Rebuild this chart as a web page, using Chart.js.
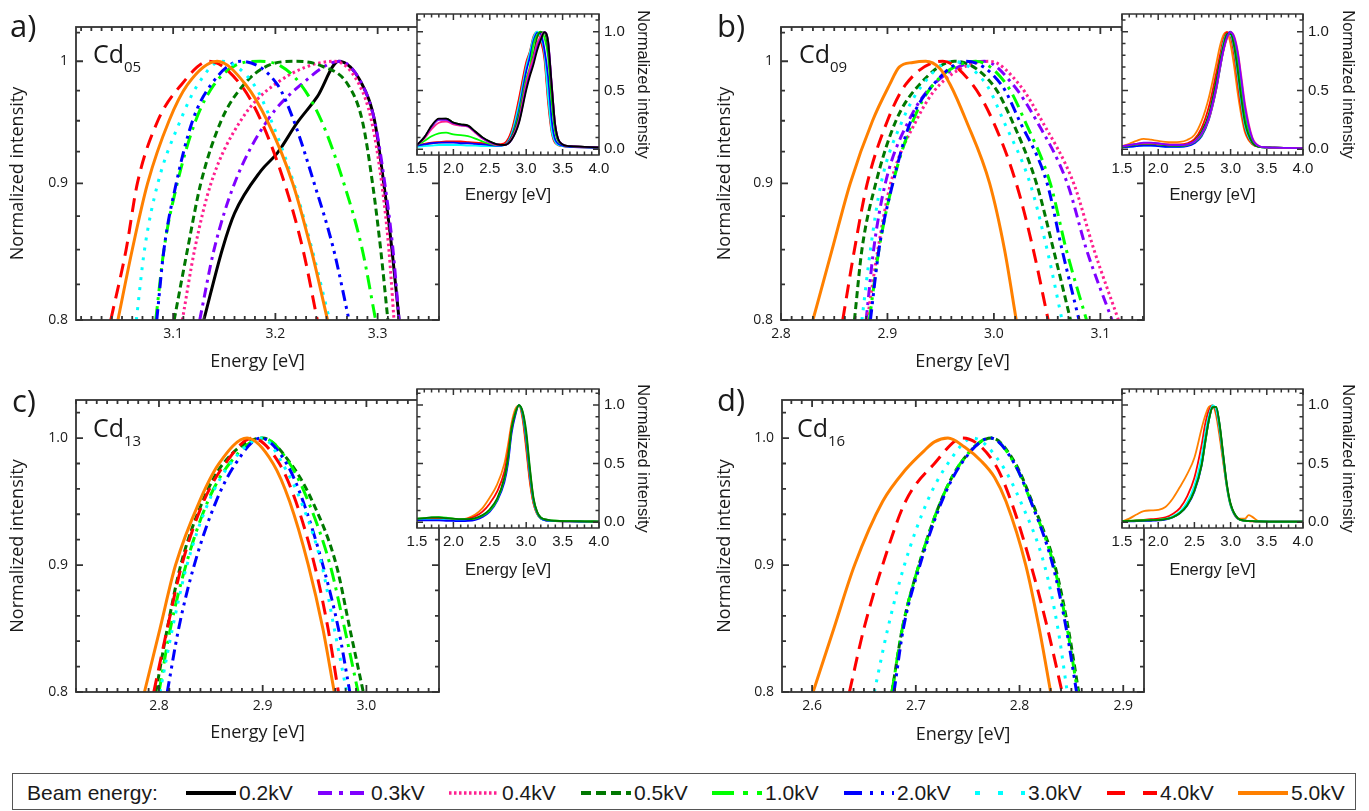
<!DOCTYPE html>
<html>
<head>
<meta charset="utf-8">
<title>Cd series – normalized CL spectra vs beam energy</title>
<script src="https://cdn.jsdelivr.net/npm/chart.js@4.4.0/dist/chart.umd.min.js"></script>
<style>
  html, body { margin: 0; padding: 0; background: #fff; }
  body { position: relative; width: 1369px; height: 811px; overflow: hidden; font-family: 'Open Sans', sans-serif; color: #1a1a1a; }
  .box { position: absolute; }
  .box canvas { display: block; }
  .tag { position: absolute; font-size: 31px; line-height: 1; }
  .name { position: absolute; font-size: 25px; line-height: 1; }
  .name sub { font-size: 15px; line-height: 0; vertical-align: -9px; }
  #legend { position: absolute; left: 12px; top: 773px; width: 1344px; height: 37px; box-sizing: border-box; border: 1.5px solid #555; }
  .ltext { position: absolute; top: 781px; font-family: 'Liberation Sans', Arial, sans-serif; font-size: 21px; line-height: 24px; white-space: nowrap; }
</style>
</head>
<body>

<div class="box" style="left:0px;top:0px"><canvas id="mainA" width="450" height="380"></canvas></div>
<div class="box" style="left:700px;top:0px"><canvas id="mainB" width="455" height="380"></canvas></div>
<div class="box" style="left:0px;top:375px"><canvas id="mainC" width="450" height="380"></canvas></div>
<div class="box" style="left:700px;top:375px"><canvas id="mainD" width="455" height="380"></canvas></div>

<div class="box" style="left:400px;top:0px"><canvas id="insetA" width="300" height="215"></canvas></div>
<div class="box" style="left:1100px;top:0px"><canvas id="insetB" width="269" height="215"></canvas></div>
<div class="box" style="left:400px;top:375px"><canvas id="insetC" width="300" height="215"></canvas></div>
<div class="box" style="left:1100px;top:375px"><canvas id="insetD" width="269" height="215"></canvas></div>

<div class="tag" style="left:10px;top:10px">a)</div>
<div class="tag" style="left:717px;top:10px">b)</div>
<div class="tag" style="left:12px;top:385px">c)</div>
<div class="tag" style="left:717px;top:384px">d)</div>

<div class="name" style="left:93px;top:41px">Cd<sub>05</sub></div>
<div class="name" style="left:799px;top:41px">Cd<sub>09</sub></div>
<div class="name" style="left:93px;top:415px">Cd<sub>13</sub></div>
<div class="name" style="left:797px;top:415px">Cd<sub>16</sub></div>

<div id="legend"></div>
<div class="ltext" style="left:27px">Beam energy:</div>

<script>
// ---- beam energies ----
const beamLabels = ['0.2kV', '0.3kV', '0.4kV', '0.5kV', '1.0kV', '2.0kV', '3.0kV', '4.0kV', '5.0kV'];

// intensity levels at which the peak flanks were read
const levels  = [0.8, 0.85, 0.9, 0.95, 0.98, 1, 0.98, 0.95, 0.9, 0.85, 0.8];
const flatTop = [0.8, 0.85, 0.9, 0.95, 0.98, 0.996, 1, 0.996, 0.98, 0.95, 0.9, 0.85, 0.8];

// ---- Cd05 (panel a), peak region ----
const cd05Series = [0, 1, 2, 3, 4, 5, 6, 7, 8];
const cd05BlackIntensity = [0.8, 0.85, 0.877, 0.91, 0.924, 0.948, 0.970, 1, 0.98, 0.95, 0.9, 0.85, 0.8];
const cd05Energy = [
  [3.130, 3.148, 3.160, 3.186, 3.202, 3.221, 3.241, 3.262, 3.285, 3.297, 3.306, 3.314, 3.321],
  [3.126, 3.140, 3.160, 3.192, 3.225, 3.263, 3.285, 3.297, 3.307, 3.315, 3.321],
  [3.109, 3.121, 3.137, 3.166, 3.199, 3.258, 3.282, 3.294, 3.304, 3.311, 3.316],
  [3.101, 3.114, 3.127, 3.147, 3.169, 3.192, 3.220, 3.245, 3.271, 3.285, 3.295, 3.303, 3.310],
  [3.083, 3.091, 3.104, 3.122, 3.140, 3.160, 3.185, 3.205, 3.225, 3.245, 3.267, 3.285, 3.298],
  [3.084, 3.091, 3.103, 3.119, 3.137, 3.166, 3.202, 3.218, 3.238, 3.257, 3.272],
  [3.064, 3.072, 3.085, 3.107, 3.124, 3.147, 3.179, 3.196, 3.218, 3.236, 3.253],
  [3.039, 3.054, 3.065, 3.085, 3.108, 3.135, 3.166, 3.186, 3.209, 3.227, 3.241],
  [3.046, 3.060, 3.075, 3.096, 3.114, 3.143, 3.171, 3.192, 3.217, 3.235, 3.251]
];
const cd05Intensity = [cd05BlackIntensity, levels, levels, flatTop, flatTop, levels, levels, levels, levels];

// ---- Cd09 (panel b) ----
const cd09Series = [1, 2, 3, 4, 5, 6, 7, 8];
const cd09OrangeIntensity = [0.8, 0.85, 0.9, 0.95, 0.98, 0.995, 0.999, 1, 0.994, 0.98, 0.95, 0.9, 0.85, 0.8];
const cd09Energy = [
  [2.880, 2.887, 2.898, 2.920, 2.943, 2.991, 3.018, 3.040, 3.069, 3.087, 3.111],
  [2.881, 2.891, 2.903, 2.927, 2.949, 2.996, 3.024, 3.045, 3.075, 3.094, 3.117],
  [2.869, 2.876, 2.889, 2.908, 2.930, 2.963, 2.999, 3.017, 3.040, 3.056, 3.072],
  [2.883, 2.892, 2.905, 2.924, 2.943, 2.983, 3.012, 3.029, 3.053, 3.068, 3.087],
  [2.884, 2.892, 2.905, 2.922, 2.943, 2.974, 3.007, 3.024, 3.050, 3.064, 3.080],
  [2.876, 2.884, 2.894, 2.914, 2.933, 2.961, 2.993, 3.009, 3.034, 3.050, 3.064],
  [2.858, 2.869, 2.881, 2.900, 2.917, 2.952, 2.980, 2.999, 3.021, 3.037, 3.051],
  [2.830, 2.848, 2.865, 2.886, 2.902, 2.911, 2.924, 2.936, 2.949, 2.959, 2.974, 2.996, 3.010, 3.021]
];
const cd09Intensity = [levels, levels, levels, levels, levels, levels, levels, cd09OrangeIntensity];

// ---- Cd13 (panel c) ----
const cd13Series = [3, 4, 5, 6, 7, 8];
const cd13Energy = [
  [2.797, 2.808, 2.821, 2.842, 2.862, 2.900, 2.927, 2.948, 2.971, 2.984, 2.997],
  [2.800, 2.811, 2.826, 2.847, 2.868, 2.900, 2.926, 2.944, 2.965, 2.979, 2.992],
  [2.808, 2.819, 2.834, 2.855, 2.874, 2.898, 2.923, 2.939, 2.958, 2.973, 2.984],
  [2.801, 2.813, 2.827, 2.848, 2.869, 2.900, 2.919, 2.937, 2.957, 2.969, 2.981],
  [2.795, 2.808, 2.822, 2.843, 2.864, 2.890, 2.916, 2.932, 2.950, 2.963, 2.973],
  [2.786, 2.801, 2.816, 2.839, 2.858, 2.885, 2.910, 2.926, 2.944, 2.958, 2.969]
];
const cd13Intensity = [levels, levels, levels, levels, levels, levels];

// ---- Cd16 (panel d) ----
const cd16Series = [3, 4, 5, 6, 7, 8];
const cd16OrangeIntensity = [0.8, 0.85, 0.9, 0.95, 0.975, 0.99, 0.997, 1, 0.993, 0.982, 0.969, 0.95, 0.9, 0.85, 0.8];
const cd16Energy = [
  [2.677, 2.687, 2.703, 2.724, 2.743, 2.773, 2.796, 2.812, 2.834, 2.847, 2.857],
  [2.677, 2.687, 2.703, 2.724, 2.743, 2.772, 2.795, 2.811, 2.833, 2.846, 2.856],
  [2.679, 2.688, 2.704, 2.725, 2.744, 2.772, 2.795, 2.811, 2.832, 2.845, 2.855],
  [2.660, 2.673, 2.689, 2.711, 2.731, 2.755, 2.782, 2.801, 2.824, 2.837, 2.846],
  [2.636, 2.650, 2.668, 2.690, 2.718, 2.745, 2.776, 2.792, 2.811, 2.827, 2.841],
  [2.601, 2.621, 2.641, 2.668, 2.690, 2.708, 2.718, 2.731, 2.747, 2.763, 2.776, 2.787, 2.806, 2.819, 2.830]
];
const cd16Intensity = [levels, levels, levels, levels, levels, cd16OrangeIntensity];

// ---- full spectra (insets) ----
const insetAEnergy = [1.5, 1.6, 1.7, 1.8, 1.9, 2.0, 2.1, 2.2, 2.3, 2.4, 2.5, 2.6, 2.7, 2.8, 2.9, 3.0, 3.05, 3.1, 3.15, 3.2, 3.25, 3.3, 3.35, 3.4, 3.5, 3.6, 3.8, 4.0];
const insetASeries = [0, 1, 2, 3, 4, 5, 6, 7, 8];
const insetAIntensity = [
  [0.035, 0.1, 0.2, 0.26, 0.26, 0.225, 0.21, 0.2, 0.15, 0.1, 0.065, 0.04, 0.035, 0.08, 0.22, 0.5, 0.62, 0.72, 0.84, 0.93, 0.995, 0.92, 0.55, 0.2, 0.04, 0.025, 0.02, 0.015],
  [0.035, 0.1, 0.19, 0.25, 0.25, 0.22, 0.205, 0.195, 0.145, 0.095, 0.06, 0.04, 0.035, 0.08, 0.23, 0.52, 0.64, 0.74, 0.87, 0.94, 0.995, 0.93, 0.56, 0.2, 0.04, 0.025, 0.02, 0.015],
  [0.035, 0.09, 0.17, 0.225, 0.235, 0.21, 0.2, 0.19, 0.14, 0.09, 0.055, 0.035, 0.035, 0.09, 0.25, 0.56, 0.68, 0.78, 0.9, 0.96, 0.995, 0.92, 0.55, 0.2, 0.04, 0.025, 0.02, 0.015],
  [0.035, 0.1, 0.19, 0.255, 0.26, 0.225, 0.21, 0.2, 0.15, 0.1, 0.065, 0.04, 0.035, 0.1, 0.28, 0.56, 0.66, 0.8, 0.95, 0.995, 0.99, 0.85, 0.48, 0.17, 0.04, 0.025, 0.02, 0.015],
  [0.035, 0.07, 0.11, 0.135, 0.14, 0.125, 0.12, 0.11, 0.09, 0.065, 0.045, 0.035, 0.035, 0.1, 0.3, 0.6, 0.7, 0.89, 0.97, 1.0, 0.95, 0.79, 0.4, 0.14, 0.04, 0.025, 0.02, 0.015],
  [0.03, 0.04, 0.05, 0.055, 0.055, 0.055, 0.05, 0.05, 0.045, 0.04, 0.035, 0.03, 0.035, 0.11, 0.33, 0.66, 0.78, 0.92, 0.99, 0.98, 0.85, 0.62, 0.25, 0.08, 0.03, 0.02, 0.015, 0.01],
  [0.02, 0.025, 0.03, 0.035, 0.035, 0.035, 0.035, 0.03, 0.03, 0.025, 0.025, 0.025, 0.035, 0.13, 0.38, 0.7, 0.82, 0.95, 1.0, 0.95, 0.82, 0.45, 0.16, 0.06, 0.025, 0.02, 0.015, 0.01],
  [0.03, 0.045, 0.055, 0.06, 0.065, 0.065, 0.065, 0.06, 0.055, 0.05, 0.045, 0.04, 0.05, 0.16, 0.43, 0.74, 0.83, 0.96, 0.995, 0.92, 0.77, 0.4, 0.14, 0.05, 0.025, 0.02, 0.015, 0.01],
  [0.03, 0.04, 0.05, 0.055, 0.06, 0.06, 0.06, 0.055, 0.05, 0.045, 0.04, 0.035, 0.045, 0.15, 0.41, 0.72, 0.82, 0.94, 1.0, 0.93, 0.79, 0.44, 0.16, 0.06, 0.025, 0.02, 0.015, 0.01]
];

const insetBEnergy = [1.5, 1.6, 1.7, 1.8, 1.9, 2.0, 2.1, 2.2, 2.3, 2.4, 2.5, 2.6, 2.7, 2.8, 2.85, 2.9, 2.95, 3.0, 3.05, 3.1, 3.15, 3.2, 3.3, 3.4, 3.5, 3.6, 3.8, 4.0];
const insetBSeries = [1, 2, 3, 4, 5, 6, 7, 8];
const insetBIntensity = [
  [0.025, 0.035, 0.045, 0.055, 0.055, 0.05, 0.04, 0.035, 0.035, 0.04, 0.065, 0.13, 0.27, 0.52, 0.69, 0.84, 0.95, 0.995, 0.95, 0.81, 0.58, 0.35, 0.09, 0.025, 0.015, 0.012, 0.01, 0.008],
  [0.025, 0.035, 0.045, 0.05, 0.05, 0.045, 0.04, 0.035, 0.035, 0.04, 0.065, 0.13, 0.26, 0.51, 0.68, 0.83, 0.94, 0.995, 0.96, 0.83, 0.61, 0.38, 0.1, 0.025, 0.015, 0.012, 0.01, 0.008],
  [0.02, 0.03, 0.04, 0.045, 0.045, 0.04, 0.035, 0.03, 0.03, 0.04, 0.07, 0.15, 0.3, 0.58, 0.74, 0.88, 0.98, 0.98, 0.87, 0.66, 0.42, 0.22, 0.055, 0.02, 0.015, 0.012, 0.01, 0.008],
  [0.02, 0.03, 0.04, 0.045, 0.045, 0.04, 0.035, 0.03, 0.03, 0.035, 0.06, 0.12, 0.26, 0.51, 0.68, 0.84, 0.95, 0.995, 0.92, 0.74, 0.5, 0.28, 0.07, 0.02, 0.015, 0.012, 0.01, 0.008],
  [0.015, 0.02, 0.025, 0.03, 0.03, 0.025, 0.02, 0.02, 0.02, 0.025, 0.05, 0.11, 0.25, 0.5, 0.67, 0.84, 0.96, 1.0, 0.9, 0.7, 0.46, 0.25, 0.06, 0.02, 0.015, 0.012, 0.01, 0.008],
  [0.015, 0.02, 0.025, 0.03, 0.03, 0.025, 0.02, 0.02, 0.02, 0.03, 0.06, 0.13, 0.28, 0.55, 0.72, 0.9, 0.98, 0.97, 0.85, 0.62, 0.38, 0.19, 0.05, 0.02, 0.015, 0.012, 0.01, 0.008],
  [0.02, 0.03, 0.04, 0.05, 0.05, 0.045, 0.04, 0.04, 0.04, 0.05, 0.085, 0.18, 0.36, 0.64, 0.79, 0.93, 0.995, 0.96, 0.8, 0.56, 0.33, 0.16, 0.045, 0.02, 0.015, 0.012, 0.01, 0.008],
  [0.025, 0.045, 0.07, 0.088, 0.08, 0.07, 0.062, 0.06, 0.062, 0.078, 0.12, 0.24, 0.44, 0.72, 0.87, 0.97, 0.995, 0.89, 0.7, 0.47, 0.28, 0.14, 0.04, 0.02, 0.015, 0.012, 0.01, 0.008]
];

const insetCEnergy = [1.5, 1.6, 1.7, 1.8, 1.9, 2.0, 2.1, 2.2, 2.3, 2.4, 2.5, 2.6, 2.7, 2.75, 2.8, 2.85, 2.9, 2.95, 3.0, 3.05, 3.1, 3.15, 3.2, 3.3, 3.4, 3.6, 3.8, 4.0];
const insetCSeries = [3, 4, 5, 6, 7, 8];
const insetCIntensity = [
  [0.03, 0.035, 0.04, 0.04, 0.035, 0.03, 0.025, 0.025, 0.035, 0.06, 0.11, 0.2, 0.38, 0.55, 0.8, 0.93, 1.0, 0.95, 0.78, 0.47, 0.21, 0.09, 0.04, 0.02, 0.012, 0.008, 0.006, 0.005],
  [0.03, 0.035, 0.04, 0.042, 0.038, 0.03, 0.025, 0.025, 0.03, 0.055, 0.1, 0.19, 0.37, 0.54, 0.8, 0.93, 1.0, 0.94, 0.75, 0.45, 0.2, 0.085, 0.04, 0.018, 0.012, 0.008, 0.006, 0.005],
  [0.015, 0.015, 0.015, 0.015, 0.012, 0.01, 0.008, 0.01, 0.02, 0.045, 0.09, 0.18, 0.34, 0.5, 0.76, 0.91, 1.0, 0.93, 0.72, 0.42, 0.19, 0.08, 0.035, 0.012, 0.008, 0.006, 0.005, 0.004],
  [0.02, 0.02, 0.02, 0.02, 0.018, 0.015, 0.015, 0.018, 0.03, 0.055, 0.1, 0.19, 0.36, 0.53, 0.79, 0.93, 1.0, 0.92, 0.7, 0.4, 0.18, 0.075, 0.03, 0.012, 0.008, 0.006, 0.005, 0.004],
  [0.02, 0.025, 0.028, 0.03, 0.025, 0.02, 0.02, 0.03, 0.05, 0.09, 0.16, 0.26, 0.43, 0.6, 0.82, 0.94, 1.0, 0.9, 0.65, 0.36, 0.16, 0.07, 0.03, 0.012, 0.008, 0.006, 0.005, 0.004],
  [0.025, 0.03, 0.033, 0.033, 0.028, 0.022, 0.022, 0.035, 0.065, 0.12, 0.21, 0.32, 0.5, 0.66, 0.85, 0.965, 0.995, 0.88, 0.62, 0.34, 0.16, 0.07, 0.03, 0.012, 0.008, 0.006, 0.005, 0.004]
];

const insetDEnergy = [1.5, 1.6, 1.7, 1.8, 1.9, 2.0, 2.1, 2.2, 2.3, 2.4, 2.5, 2.6, 2.65, 2.7, 2.75, 2.8, 2.85, 2.9, 2.95, 3.0, 3.1, 3.2, 3.25, 3.3, 3.4, 3.6, 3.8, 4.0];
const insetDSeries = [3, 4, 5, 6, 7, 8];
const insetDIntensity = [
  [0.008, 0.01, 0.012, 0.014, 0.016, 0.018, 0.025, 0.042, 0.078, 0.145, 0.27, 0.49, 0.69, 0.87, 0.98, 0.985, 0.83, 0.57, 0.32, 0.16, 0.035, 0.013, 0.01, 0.008, 0.006, 0.005, 0.004, 0.004],
  [0.01, 0.012, 0.014, 0.016, 0.018, 0.02, 0.025, 0.042, 0.078, 0.145, 0.27, 0.49, 0.68, 0.87, 0.98, 0.985, 0.82, 0.56, 0.31, 0.15, 0.033, 0.012, 0.01, 0.008, 0.006, 0.005, 0.004, 0.004],
  [0.005, 0.006, 0.008, 0.01, 0.012, 0.015, 0.022, 0.04, 0.075, 0.14, 0.26, 0.48, 0.68, 0.87, 0.98, 0.985, 0.82, 0.56, 0.31, 0.15, 0.03, 0.012, 0.01, 0.008, 0.006, 0.005, 0.004, 0.004],
  [0.005, 0.008, 0.01, 0.012, 0.015, 0.02, 0.028, 0.05, 0.09, 0.17, 0.31, 0.56, 0.76, 0.91, 0.998, 0.96, 0.78, 0.53, 0.29, 0.14, 0.03, 0.012, 0.01, 0.008, 0.006, 0.005, 0.004, 0.004],
  [0.005, 0.01, 0.015, 0.02, 0.025, 0.03, 0.04, 0.07, 0.12, 0.22, 0.38, 0.66, 0.84, 0.955, 0.998, 0.94, 0.76, 0.52, 0.29, 0.14, 0.03, 0.01, 0.008, 0.006, 0.005, 0.004, 0.004, 0.004],
  [0.005, 0.03, 0.065, 0.095, 0.1, 0.105, 0.13, 0.2, 0.3, 0.41, 0.55, 0.8, 0.91, 0.985, 0.995, 0.91, 0.72, 0.5, 0.3, 0.15, 0.03, 0.03, 0.06, 0.045, 0.005, 0.004, 0.004, 0.004]
];

// ---- axis ticks ----
const mainYTicks = [0.8, 0.9, 1];
const logYLabels = ['0.8', '0.9', '1'];
const linYLabels = ['0.8', '0.9', '1.0'];
const insetXTicks = [1.5, 2.0, 2.5, 3.0, 3.5, 4.0];
const insetXLabels = ['1.5', '2.0', '2.5', '3.0', '3.5', '4.0'];
const insetYTicks = [0, 0.5, 1];
const insetYLabels = ['0.0', '0.5', '1.0'];

// ---- line styles per beam energy ----
const beamColors = ['#000000', '#8000ff', '#ff1f8f', '#007800', '#00ff00', '#0000ff', '#00ffff', '#ff0000', '#ff8000'];
const beamDash = [[], [10, 5, 3, 5], [2.5, 3], [7, 4], [14, 6, 3, 6], [11, 5, 3, 5, 3, 5], [3, 7], [14, 8], []];
const legendDash = [[], [14, 7, 4, 7], [2.5, 2.5], [10, 5], [22, 9, 5, 9], [18, 8, 3, 8, 3, 8], [5, 18], [18, 18], []];

const INK = '#1a1a1a';
const FRAME = '#333333';
const SANS = "'Open Sans', sans-serif";
const ARIAL = "'Liberation Sans', Arial, sans-serif";

// box with inward ticks on all four sides, optional white fill for insets
function stepValues(min, max, step) {
  const out = [];
  for (let n = Math.ceil(min / step - 1e-6); n <= Math.floor(max / step + 1e-6); n++) out.push(+(n * step).toFixed(6));
  return out;
}
const plotFrame = {
  id: 'plotFrame',
  beforeDraw(chart, args, opts) {
    if (!opts.fill) return;
    const { ctx, chartArea: a } = chart;
    ctx.save();
    ctx.fillStyle = opts.fill;
    ctx.fillRect(a.left, a.top, a.right - a.left, a.bottom - a.top);
    ctx.restore();
  },
  afterDatasetsDraw(chart, args, opts) {
    const { ctx, chartArea: a } = chart;
    const xs = chart.scales.x, ys = chart.scales.y;
    const isMajor = (scale, v, step) => scale.ticks.some(t => Math.abs(t.value - v) < step / 10);
    ctx.save();
    ctx.strokeStyle = FRAME;
    ctx.lineWidth = opts.lineWidth;
    ctx.beginPath();
    stepValues(xs.min, xs.max, opts.xStep).forEach(v => {
      const p = xs.getPixelForValue(v);
      const len = isMajor(xs, v, opts.xStep) ? opts.major : opts.minor;
      ctx.moveTo(p, a.bottom); ctx.lineTo(p, a.bottom - len);
      ctx.moveTo(p, a.top); ctx.lineTo(p, a.top + len);
    });
    stepValues(ys.min, ys.max, opts.yStep).forEach(v => {
      const p = ys.getPixelForValue(v);
      const len = isMajor(ys, v, opts.yStep) ? opts.major : opts.minor;
      ctx.moveTo(a.left, p); ctx.lineTo(a.left + len, p);
      ctx.moveTo(a.right, p); ctx.lineTo(a.right - len, p);
    });
    ctx.stroke();
    ctx.strokeRect(a.left, a.top, a.right - a.left, a.bottom - a.top);
    ctx.restore();
  }
};

function curve(idx, xs, ys, thin) {
  return {
    label: beamLabels[idx],
    data: xs.map((x, i) => ({ x, y: ys[i] })),
    borderColor: beamColors[idx],
    borderWidth: thin ? 1.8 : 3,
    borderDash: thin ? [] : beamDash[idx],
    pointRadius: 0,
    cubicInterpolationMode: 'monotone',
    fill: false
  };
}

function fixedTicks(values) {
  return scale => { scale.ticks = values.map(v => ({ value: v })); };
}

function mainPanel(id, lay, xAx, yAx, series, energy, intensity) {
  // later beam energies are drawn on top
  const datasets = series.map((s, k) => curve(s, energy[k], intensity[k], false)).reverse();
  new Chart(document.getElementById(id), {
    type: 'line',
    data: { datasets },
    plugins: [plotFrame],
    options: {
      responsive: false, animation: false, devicePixelRatio: 1, events: [],
      layout: { padding: { left: 0, top: lay.top, right: 11, bottom: 0 } },
      plugins: {
        legend: { display: false }, tooltip: { enabled: false },
        plotFrame: { lineWidth: 1.8, major: 7, minor: 4, xStep: 0.01, yStep: yAx.step }
      },
      scales: {
        x: {
          type: 'linear', min: xAx.min, max: xAx.max,
          grid: { display: false, drawTicks: false }, border: { display: false },
          afterBuildTicks: fixedTicks(xAx.ticks),
          afterFit: s => { s.height = lay.xHeight; },
          ticks: { autoSkip: false, maxRotation: 0, padding: 6, color: INK, font: { family: SANS, size: 14 },
                   callback: (v, i) => xAx.labels[i] },
          title: { display: true, text: 'Energy [eV]', color: INK, font: { family: SANS, size: 18 },
                   padding: { top: 0, bottom: lay.xTitle } }
        },
        y: {
          type: yAx.type, min: 0.8, max: 1.03,
          grid: { display: false, drawTicks: false }, border: { display: false },
          afterBuildTicks: fixedTicks(mainYTicks),
          afterFit: s => { s.width = lay.yWidth; },
          ticks: { autoSkip: false, padding: 8, color: INK, font: { family: SANS, size: 14 },
                   callback: (v, i) => yAx.labels[i] },
          title: { display: true, text: 'Normalized intensity', color: INK, font: { family: SANS, size: 18 },
                   padding: { top: lay.yTitle, bottom: 0 } }
        }
      }
    }
  });
}

function insetPanel(id, lay, energy, series, intensity) {
  const datasets = series.map((s, k) => curve(s, energy, intensity[k], true));
  new Chart(document.getElementById(id), {
    type: 'line',
    data: { datasets },
    plugins: [plotFrame],
    options: {
      responsive: false, animation: false, devicePixelRatio: 1, events: [],
      layout: { padding: { left: lay.left, top: 9, right: lay.right, bottom: 0 } },
      plugins: {
        legend: { display: false }, tooltip: { enabled: false },
        plotFrame: { fill: '#ffffff', lineWidth: 1.5, major: 6, minor: 3.5, xStep: 0.1, yStep: 0.1 }
      },
      scales: {
        x: {
          type: 'linear', min: 1.5, max: 4.0,
          grid: { display: false, drawTicks: false }, border: { display: false },
          afterBuildTicks: fixedTicks(insetXTicks),
          afterFit: s => { s.height = lay.xHeight; },
          ticks: { autoSkip: false, maxRotation: 0, padding: 5, color: INK, font: { family: ARIAL, size: 15 },
                   callback: (v, i) => insetXLabels[i] },
          title: { display: true, text: 'Energy [eV]', color: INK, font: { family: ARIAL, size: 16.5 },
                   padding: { top: 0, bottom: 10 } }
        },
        y: {
          type: 'linear', position: 'right', min: -0.05, max: lay.yMax,
          grid: { display: false, drawTicks: false }, border: { display: false },
          afterBuildTicks: fixedTicks(insetYTicks),
          afterFit: s => { s.width = lay.yWidth; },
          ticks: { autoSkip: false, padding: 5, color: INK, font: { family: ARIAL, size: 15 },
                   callback: (v, i) => insetYLabels[i] },
          title: { display: true, text: 'Normalized intensity', color: INK, font: { family: ARIAL, size: 16.5 },
                   padding: { top: 0, bottom: 0 } }
        }
      }
    }
  });
}

mainPanel('mainA', { top: 27, xHeight: 60, yWidth: 76, xTitle: 7, yTitle: 7 },
  { min: 3.005, max: 3.36, ticks: [3.1, 3.2, 3.3], labels: ['3.1', '3.2', '3.3'] },
  { type: 'logarithmic', step: 0.025, labels: logYLabels },
  cd05Series, cd05Energy, cd05Intensity);
mainPanel('mainB', { top: 27, xHeight: 60, yWidth: 81, xTitle: 7, yTitle: 14 },
  { min: 2.8, max: 3.141, ticks: [2.8, 2.9, 3.0, 3.1], labels: ['2.8', '2.9', '3.0', '3.1'] },
  { type: 'logarithmic', step: 0.025, labels: logYLabels },
  cd09Series, cd09Energy, cd09Intensity);
mainPanel('mainC', { top: 25, xHeight: 63, yWidth: 76, xTitle: 11, yTitle: 7 },
  { min: 2.72, max: 3.07, ticks: [2.8, 2.9, 3.0], labels: ['2.8', '2.9', '3.0'] },
  { type: 'linear', step: 0.02, labels: linYLabels },
  cd13Series, cd13Energy, cd13Intensity);
mainPanel('mainD', { top: 25, xHeight: 63, yWidth: 82, xTitle: 9, yTitle: 14 },
  { min: 2.571, max: 2.92, ticks: [2.6, 2.7, 2.8, 2.9], labels: ['2.6', '2.7', '2.8', '2.9'] },
  { type: 'linear', step: 0.02, labels: linYLabels },
  cd16Series, cd16Energy, cd16Intensity);

insetPanel('insetA', { left: 17, right: 48, yWidth: 53, xHeight: 60, yMax: 1.15 }, insetAEnergy, insetASeries, insetAIntensity);
insetPanel('insetB', { left: 22, right: 12, yWidth: 54, xHeight: 60, yMax: 1.15 }, insetBEnergy, insetBSeries, insetBIntensity);
insetPanel('insetC', { left: 17, right: 48, yWidth: 53, xHeight: 62, yMax: 1.137 }, insetCEnergy, insetCSeries, insetCIntensity);
insetPanel('insetD', { left: 22, right: 12, yWidth: 54, xHeight: 62, yMax: 1.137 }, insetDEnergy, insetDSeries, insetDIntensity);

// legend row: line sample followed by its label
const SVGNS = 'http://www.w3.org/2000/svg';
beamLabels.forEach((label, i) => {
  const x0 = Math.round(186 + 131.5 * i);
  const svg = document.createElementNS(SVGNS, 'svg');
  svg.setAttribute('width', '52');
  svg.setAttribute('height', '10');
  svg.style.position = 'absolute';
  svg.style.left = x0 + 'px';
  svg.style.top = '788px';
  const ln = document.createElementNS(SVGNS, 'line');
  ln.setAttribute('x1', '0'); ln.setAttribute('y1', '5');
  ln.setAttribute('x2', '50'); ln.setAttribute('y2', '5');
  ln.setAttribute('stroke', beamColors[i]);
  ln.setAttribute('stroke-width', i === 2 ? '3.5' : '4');
  if (legendDash[i].length) ln.setAttribute('stroke-dasharray', legendDash[i].join(' '));
  svg.appendChild(ln);
  document.body.appendChild(svg);
  const t = document.createElement('div');
  t.className = 'ltext';
  t.style.left = (x0 + 53) + 'px';
  t.textContent = label;
  document.body.appendChild(t);
});
</script>
</body>
</html>
